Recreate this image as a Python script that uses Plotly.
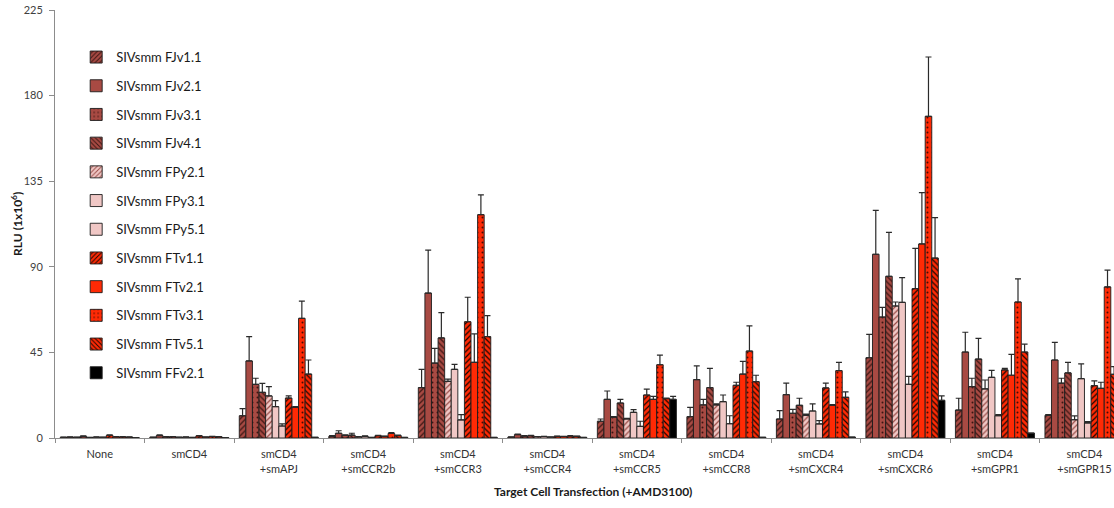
import plotly.graph_objects as go

# Target cell transfections (x categories)
categories = [
    "None", "smCD4", "smCD4<br>+smAPJ", "smCD4<br>+smCCR2b", "smCD4<br>+smCCR3",
    "smCD4<br>+smCCR4", "smCD4<br>+smCCR5", "smCD4<br>+smCCR8", "smCD4<br>+smCXCR4",
    "smCD4<br>+smCXCR6", "smCD4<br>+smGPR1", "smCD4<br>+smGPR15",
]

# Mean RLU (x10^6) per envelope, one value per category
fjv1_1 = [0.4, 0.4, 11.7, 0.9, 26.5, 0.5, 8.8, 11.2, 10.0, 42.2, 14.7, 11.9]
fjv2_1 = [0.5, 1.3, 40.5, 2.5, 76.2, 1.8, 20.3, 30.7, 22.8, 96.6, 45.2, 41.0]
fjv3_1 = [0.4, 0.6, 28.2, 1.4, 39.4, 1.0, 10.9, 17.4, 13.0, 63.6, 27.0, 28.8]
fjv4_1 = [0.9, 0.7, 24.0, 1.5, 52.6, 1.2, 18.4, 26.5, 17.2, 85.0, 41.5, 34.2]
fpy2_1 = [0.3, 0.4, 22.1, 0.6, 29.8, 0.7, 10.0, 17.4, 11.9, 69.4, 25.8, 9.6]
fpy3_1 = [0.5, 0.5, 16.5, 0.9, 36.1, 0.8, 13.5, 19.1, 14.2, 71.3, 31.9, 31.2]
fpy5_1 = [0.4, 0.3, 6.3, 0.3, 9.5, 0.5, 6.1, 7.5, 7.4, 28.2, 11.7, 7.9]
ftv1_1 = [1.4, 1.1, 21.0, 1.2, 61.1, 0.9, 22.6, 27.7, 26.3, 78.5, 35.8, 27.5]
ftv2_1 = [0.6, 0.5, 16.1, 0.9, 39.8, 0.8, 20.3, 33.6, 17.2, 102.0, 33.0, 26.1]
ftv3_1 = [0.6, 0.8, 62.9, 2.4, 117.4, 1.0, 38.5, 45.7, 35.4, 169.1, 71.5, 79.4]
ftv5_1 = [0.5, 0.6, 33.6, 1.3, 53.3, 0.9, 20.7, 29.6, 21.4, 94.6, 45.2, 33.5]
ffv2_1 = [0.2, 0.2, 0.4, 0.3, 0.3, 0.3, 20.3, 0.4, 0.5, 19.8, 2.6, 0.5]

# Upper error (SD) per envelope
fjv1_1_err = [0.1, 0.1, 3.7, 0.3, 9.6, 0.1, 1.2, 4.9, 4.4, 12.3, 6.2, 0.4]
fjv2_1_err = [0.1, 0.3, 12.8, 1.3, 22.6, 0.3, 4.4, 7.2, 6.0, 23.1, 10.4, 9.3]
fjv3_1_err = [0.1, 0.1, 3.2, 0.2, 7.7, 0.2, 0.4, 2.9, 2.1, 5.1, 4.4, 2.6]
fjv4_1_err = [0.2, 0.1, 4.7, 1.0, 13.3, 0.2, 1.9, 10.1, 3.7, 23.1, 10.9, 5.6]
fpy2_1_err = [0.1, 0.1, 4.9, 0.1, 1.1, 0.1, 0.3, 0.5, 0.7, 2.1, 4.7, 2.0]
fpy3_1_err = [0.1, 0.1, 3.1, 0.2, 2.6, 0.1, 1.4, 3.5, 3.7, 13.0, 3.7, 7.8]
fpy5_1_err = [0.1, 0.1, 1.1, 0.1, 2.8, 0.1, 2.7, 4.2, 1.7, 4.2, 0.6, 0.7]
ftv1_1_err = [0.2, 0.2, 1.1, 0.2, 12.9, 0.1, 3.1, 1.6, 2.5, 21.2, 0.8, 2.5]
ftv2_1_err = [0.1, 0.1, 0.4, 0.1, 14.9, 0.1, 1.6, 6.7, 0.3, 27.0, 11.0, 3.2]
ftv3_1_err = [0.1, 0.1, 9.1, 0.5, 10.4, 0.2, 5.1, 13.2, 4.4, 31.2, 12.1, 8.9]
ftv5_1_err = [0.1, 0.1, 7.4, 0.2, 11.0, 0.1, 0.3, 3.4, 2.9, 21.2, 4.2, 4.0]
ffv2_1_err = [0.0, 0.0, 0.0, 0.0, 0.0, 0.0, 1.6, 0.0, 0.0, 2.3, 0.0, 0.0]

BROWN = "#a84a43"
PINK = "#f0c7c5"
RED = "#ff2a05"
BLACK = "#000000"

# name, values, errors, fill, pattern shape, pattern colour
series = [
    ("SIVsmm FJv1.1", fjv1_1, fjv1_1_err, BROWN, "/", "#3a1512"),
    ("SIVsmm FJv2.1", fjv2_1, fjv2_1_err, BROWN, "", None),
    ("SIVsmm FJv3.1", fjv3_1, fjv3_1_err, BROWN, ".", "#3a1512"),
    ("SIVsmm FJv4.1", fjv4_1, fjv4_1_err, BROWN, "\\", "#3a1512"),
    ("SIVsmm FPy2.1", fpy2_1, fpy2_1_err, PINK, "/", "#9a4d47"),
    ("SIVsmm FPy3.1", fpy3_1, fpy3_1_err, PINK, "", None),
    ("SIVsmm FPy5.1", fpy5_1, fpy5_1_err, PINK, "", None),
    ("SIVsmm FTv1.1", ftv1_1, ftv1_1_err, RED, "/", "#1a0500"),
    ("SIVsmm FTv2.1", ftv2_1, ftv2_1_err, RED, "", None),
    ("SIVsmm FTv3.1", ftv3_1, ftv3_1_err, RED, ".", "#4a0a00"),
    ("SIVsmm FTv5.1", ftv5_1, ftv5_1_err, RED, "\\", "#1a0500"),
    ("SIVsmm FFv2.1", ffv2_1, ffv2_1_err, BLACK, "", None),
]

FONT = "Lato, 'Open Sans', sans-serif"

fig = go.Figure()
for i, (name, vals, errs, color, shape, fg) in enumerate(series):
    marker = dict(color=color, line=dict(color="#1c1c1c", width=0.9))
    if shape:
        marker["pattern"] = dict(
            shape=shape, fgcolor=fg, bgcolor=color, fillmode="replace",
            size=4 if shape != "." else 5,
            solidity=0.3 if shape != "." else 0.12,
        )
    fig.add_trace(go.Bar(
        name=name, x=categories, y=vals, marker=marker,
        legendgroup=f"g{i}",
        error_y=dict(type="data", array=errs, arrayminus=[0] * len(errs),
                     symmetric=False, color="#2a2a2a", thickness=1.2, width=3),
    ))

fig.update_layout(
    width=1114, height=508,
    margin=dict(l=55, r=0, t=10, b=70),
    paper_bgcolor="white", plot_bgcolor="white",
    barmode="group", bargap=0.117, bargroupgap=0,
    font=dict(family=FONT, color="#404040", size=11),
    showlegend=True,
    legend=dict(
        x=0.02, y=0.925, xanchor="left", yanchor="top",
        traceorder="grouped", tracegroupgap=8.8,
        font=dict(family=FONT, size=13, color="#1a1a1a"),
        bgcolor="rgba(0,0,0,0)", itemclick=False,
    ),
    xaxis=dict(
        range=[-0.5, 11.33], showline=True, linecolor="#8c8c8c", linewidth=1,
        ticks="outside", ticklen=4, tickcolor="#8c8c8c", tickson="boundaries",
        showgrid=False, tickfont=dict(size=11, color="#333333"),
        ticklabelstandoff=6,
    ),
    yaxis=dict(
        range=[0, 225], dtick=45, showline=True, linecolor="#8c8c8c", linewidth=1,
        ticks="outside", ticklen=5, tickcolor="#8c8c8c", showgrid=False,
        zeroline=False, tickfont=dict(size=11, color="#404040"),
        ticklabelstandoff=4,
    ),
    annotations=[
        dict(text="<b>Target Cell Transfection (+AMD3100)</b>", xref="paper", yref="paper",
             x=0.508, y=-0.124, xanchor="center", yanchor="middle", showarrow=False,
             font=dict(family=FONT, size=12, color="#1a1a1a")),
        dict(text="<b>RLU (1x10<sup>6</sup>)</b>", xref="paper", yref="paper",
             x=-0.036, y=0.5, xanchor="center", yanchor="middle", textangle=-90,
             showarrow=False, font=dict(family=FONT, size=12, color="#1a1a1a")),
    ],
)

fig.write_html("out.html")
